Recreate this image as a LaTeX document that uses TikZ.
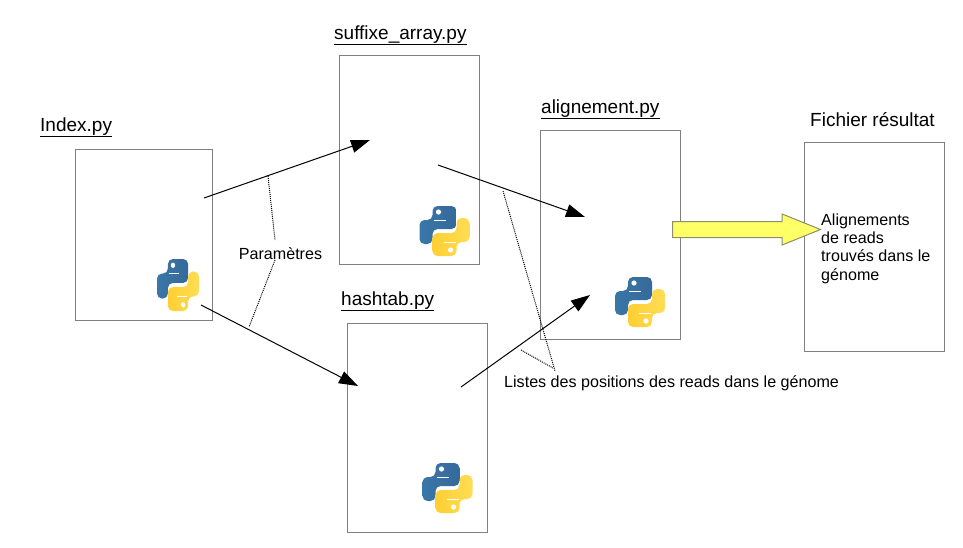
\documentclass[tikz,border=0pt]{standalone}
\usepackage{fontspec}
\setmainfont{Liberation Sans}
\usetikzlibrary{arrows.meta,shapes.arrows}

\definecolor{boxgray}{HTML}{808080}
\definecolor{pyblue}{HTML}{3A76A8}
\definecolor{pybluedark}{HTML}{356A9A}
\definecolor{pyyellow}{HTML}{FFDD55}
\definecolor{pyyellowdark}{HTML}{FFCF33}
\definecolor{arrowyellow}{HTML}{FFFF66}
\definecolor{arrowgray}{HTML}{8C8C6E}

\newcommand{\snakepath}{(-12,-25) -- (12,-25) -- (12,-2) -- (-12,-2) -- (-12,13) -- (-25,13) -- (-25,-11) -- (-12,-11) -- cycle}

\tikzset{
  filebox/.style={draw=boxgray, line width=1pt, minimum width=#1, inner sep=0pt},
  flow/.style={-{Triangle[length=19pt,width=13pt]}, line width=1pt, black},
  note/.style={densely dotted, line width=1pt, black},
  title/.style={font=\fontsize{19}{21}\selectfont, inner sep=0pt},
  label/.style={font=\fontsize{16.1}{18.3}\selectfont, inner sep=0pt},
  pythonlogo/.pic={
    \path[left color=pyblue, right color=pybluedark, rounded corners=5pt] \snakepath;
    \draw[white, line width=.6pt] (-11,-11) -- (1,-11);
    \fill[white] (-6,-19) circle (2.6);
    \begin{scope}[rotate=180]
      \path[left color=pyyellowdark, right color=pyyellow, rounded corners=5pt] \snakepath;
      \draw[white, line width=.6pt] (-11,-11) -- (1,-11);
      \fill[white] (-6,-19) circle (2.6);
    \end{scope}
  }
}

\begin{document}
\begin{tikzpicture}[x=1pt,y=-1pt]

        \useasboundingbox (0,0) rectangle (963,547);

        % files
        \begin{scope}[every node/.style={filebox=140pt, minimum height=209pt}]
          \node[minimum width=137pt, minimum height=171pt] (index) at (143.5,234.5) {};
          \node (suffixe)    at (409,159.5)   {};
          \node (hashtab)    at (417.5,427.5) {};
          \node (alignement) at (610,234.5)   {};
          \node (resultat)   at (874.5,246.5) {};
        \end{scope}

        % file names
        \begin{scope}[every node/.style={title, anchor=base west}]
          \node (tindex)      at (40,131)  {\underline{Index.py}};
          \node (tsuffixe)    at (334,39)  {\underline{suffixe\_array.py}};
          \node (thashtab)    at (341,305) {\underline{hashtab.py}};
          \node (talignement) at (541,113) {\underline{alignement.py}};
          \node (tresultat)   at (810,126) {Fichier résultat};
        \end{scope}

        \pic[xscale=.84, yscale=1.04] at (178,285) {pythonlogo};
        \pic at (444.5,231) {pythonlogo};
        \pic at (447.5,488) {pythonlogo};
        \pic at (640,302) {pythonlogo};

        % free ends of the arrows
        \coordinate (a1) at (204,198);
        \coordinate (a2) at (370,140);
        \coordinate (b1) at (201,305);
        \coordinate (b2) at (358,386);
        \coordinate (c1) at (438,165);
        \coordinate (c2) at (585,217);
        \coordinate (d1) at (461,387);
        \coordinate (d2) at (590,295);

        \draw[flow] (a1) -- (a2);
        \draw[flow] (b1) -- (b2);
        \draw[flow] (c1) -- (c2);
        \draw[flow] (d1) -- (d2);

        \begin{scope}[every node/.style={label}]
          \node (parametres) at (280.5,253.5) {Paramètres};
          \node[anchor=base west] (listes) at (504,387) {Listes des positions des reads dans le génome};
          \node[anchor=north west, align=left] (alignements) at (821,213.5)
            {Alignements\\de reads\\trouvés dans le\\génome};
        \end{scope}

        % dotted leaders
        \coordinate (p1) at (268,176);
        \coordinate (p2) at (275,240);
        \coordinate (p3) at (275,260);
        \coordinate (p4) at (249,327);
        \coordinate (l1) at (503,191);
        \coordinate (l2) at (555,371);
        \coordinate (l3) at (521,350);
        \coordinate (l4) at (553,368);

        \draw[note] (p1) -- (p2);
        \draw[note] (p3) -- (p4);
        \draw[note] (l1) -- (l2);
        \draw[note] (l3) -- (l4);

        % result arrow
        \node[single arrow, draw=arrowgray, fill=arrowyellow, line width=1pt, inner sep=7.5pt,
              minimum height=148pt, minimum width=30pt, single arrow head extend=7.5pt,
              single arrow head indent=0pt, single arrow tip angle=44, anchor=tail] (sortie) at (672,229.5) {};

      \end{tikzpicture}
\end{document}
